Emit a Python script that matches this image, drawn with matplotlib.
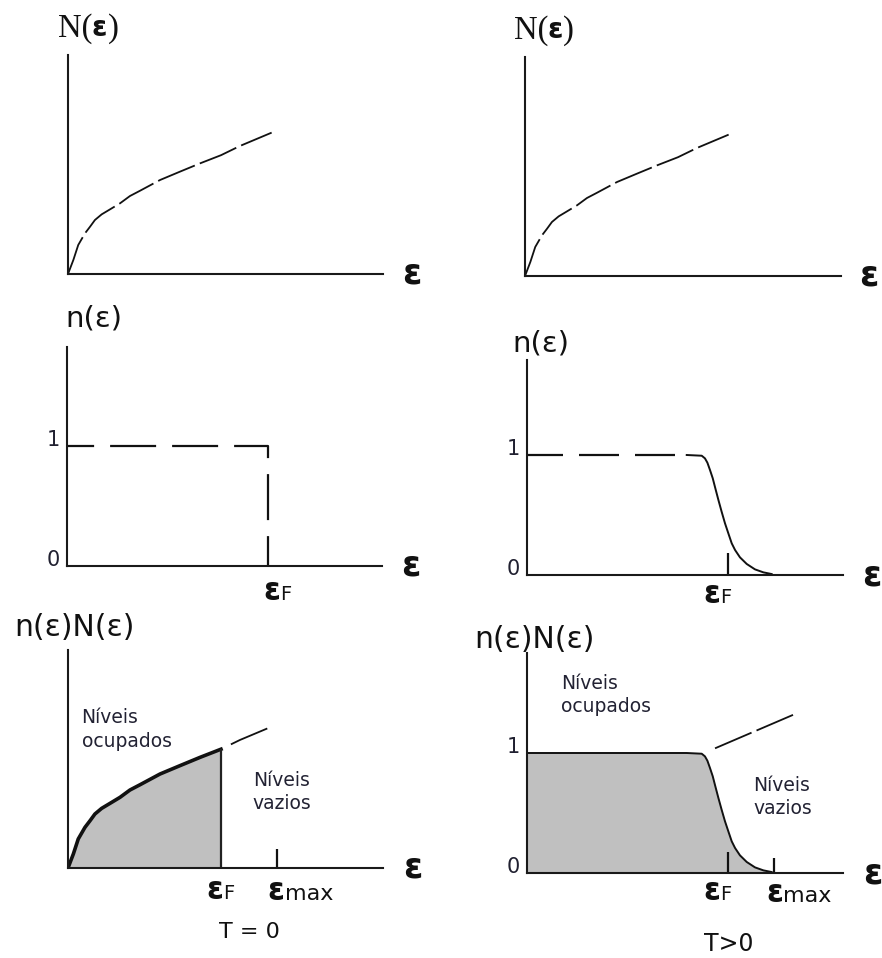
import numpy as np
import matplotlib
matplotlib.use("Agg")
import matplotlib.pyplot as plt

W, H = 882, 958          # figure size in pixels
PX, PY = 153.0, 120.0    # pixels per energy unit / per occupation unit

# density of states N(e) (energy in units of the T=0 Fermi level)
dos_e = [0, 0.035, 0.067, 0.111, 0.144, 0.176, 0.22, 0.275, 0.34, 0.405, 0.471,
         0.601, 0.732, 0.863, 1.0, 1.124, 1.331]
dos_v = [0, 0.117, 0.242, 0.339, 0.394, 0.45, 0.497, 0.539, 0.589, 0.65, 0.694,
         0.783, 0.853, 0.922, 0.99, 1.067, 1.178]

# Fermi level / cut-off energies used in each sketch
ef = 1.316
emax = 1.614
ef_t0 = 1.0
emax_t0 = 1.366

# occupation n(e) at T = 0 (step) and T > 0 (smeared edge)
step_e = [0, ef, ef]
step_v = [1, 1, 0]
fd_e = [1.044, 1.142, 1.163, 1.179, 1.196, 1.214, 1.231, 1.251, 1.272, 1.294,
        1.316, 1.338, 1.36, 1.392, 1.436, 1.49, 1.545, 1.599]
fd_v = [1.0, 0.994, 0.972, 0.936, 0.875, 0.806, 0.722, 0.625, 0.528, 0.431,
        0.347, 0.264, 0.208, 0.147, 0.092, 0.047, 0.022, 0.008]

# piece of N(e) drawn above the T > 0 product curve
tail_e = [1.229, 1.763]
tail_v = [1.039, 1.331]

GRAY = "#c0c0c0"
INK = "#111111"

fig = plt.figure(figsize=(W / 100, H / 100), dpi=100)


def make_ax(x0, ybase, w, h):
    ax = fig.add_axes([x0 / W, 1 - ybase / H, w / W, h / H])
    ax.set_xlim(0, w / PX)
    ax.set_ylim(0, h / PY)
    for s in ("top", "right"):
        ax.spines[s].set_visible(False)
    for s in ("left", "bottom"):
        ax.spines[s].set_linewidth(1.5)
        ax.spines[s].set_color("#1a1a1a")
    ax.set_xticks([])
    ax.set_yticks([])
    ax.patch.set_visible(False)
    return ax


def occ_ticks(ax):
    ax.set_yticks([0, 1], ["0", "1"], fontsize=15, color="#202030")
    ax.tick_params(axis="y", length=0, pad=5)
    plt.setp(ax.get_yticklabels(), va="baseline")


def chain(ax, x, y, pieces):
    # consecutive text pieces sharing one baseline
    s, kw = pieces[0]
    prev = ax.text(x, y, s, ha="left", va="baseline", clip_on=False, color=INK, **kw)
    for s, kw in pieces[1:]:
        prev = ax.annotate(s, xy=(1, y), xycoords=(prev, "data"), ha="left",
                           va="baseline", annotation_clip=False, color=INK, **kw)


def eps_axis(ax, x):
    ax.text(x, 0, "ε", fontsize=25, fontweight="bold", ha="center", va="center",
            clip_on=False, color=INK)


def dos_label(ax, x, y):
    chain(ax, x, y, [("N(", dict(fontsize=23.5, family="Liberation Serif")),
                     ("ε", dict(fontsize=20, fontweight="bold")),
                     (")", dict(fontsize=23.5, family="Liberation Serif"))])


def sub_label(ax, x, y, sub, size):
    chain(ax, x, y, [("ε", dict(fontsize=22, fontweight="bold")),
                     (sub, dict(fontsize=size))])


def levels_text(ax, x, y, s):
    ax.text(x, y, s, fontsize=13.5, ha="left", va="top", linespacing=1.3,
            color="#222233")


N_DASH = (0, (22, 3))

# --- top row: density of states ---
ax1 = make_ax(68, 274, 315, 219)
ax1.plot(dos_e, dos_v, color=INK, lw=1.3, ls=N_DASH)
dos_label(ax1, -0.068, 1.98)
eps_axis(ax1, 2.25)

ax2 = make_ax(525, 276, 316, 219)
ax2.plot(dos_e, dos_v, color=INK, lw=1.3, ls=N_DASH)
dos_label(ax2, -0.075, 1.98)
eps_axis(ax2, 2.245)

# --- middle row: occupation ---
ax3 = make_ax(67, 566, 315, 219)
ax3.plot(step_e, step_v, color=INK, lw=1.6, ls=(8.5, (20.7, 7.2)))
occ_ticks(ax3)
ax3.text(0.176, 2.06, "n(ε)", fontsize=21, ha="center", va="center", color=INK)
sub_label(ax3, 1.281, -0.286, "F", 14)
eps_axis(ax3, 2.248)

ax4 = make_ax(527, 575, 316, 215)
ax4.plot([0, fd_e[0]], [fd_v[0], fd_v[0]], color=INK, lw=1.6, ls=(1.8, (18, 7.2)))
ax4.plot(fd_e, fd_v, color=INK, lw=1.4)
ax4.vlines(ef, 0, 0.18, color=INK, lw=1.6)
occ_ticks(ax4)
ax4.text(0.092, 1.93, "n(ε)", fontsize=21, ha="center", va="center", color=INK)
sub_label(ax4, 1.15, -0.233, "F", 14)
eps_axis(ax4, 2.255)

# --- bottom row: occupied states n(e)N(e) ---
ax5 = make_ax(68, 868, 315, 218)
k = dos_e.index(ef_t0) + 1
ax5.fill_between(dos_e[:k], dos_v[:k], color=GRAY, lw=0)
ax5.plot(dos_e[:k], dos_v[:k], color=INK, lw=2.6)
ax5.plot(dos_e[k - 1:], dos_v[k - 1:], color=INK, lw=1.3, ls=(22, (22, 6.1)))
ax5.vlines(ef_t0, 0, dos_v[k - 1], color="#222222", lw=1.6)
ax5.vlines(emax_t0, 0, 0.158, color=INK, lw=1.6)
ax5.text(0.044, 2.0, "n(ε)N(ε)", fontsize=21.5, ha="center", va="center", color=INK)
levels_text(ax5, 0.089, 1.33, "Níveis\nocupados")
levels_text(ax5, 1.207, 0.81, "Níveis\nvazios")
sub_label(ax5, 0.904, -0.255, "F", 14)
sub_label(ax5, 1.306, -0.264, "max", 16)
ax5.text(1.187, -0.53, "T = 0", fontsize=16, ha="center", va="center",
         clip_on=False, color=INK)
eps_axis(ax5, 2.256)

ax6 = make_ax(527, 873, 316, 220)
prod_e = [0] + fd_e
prod_v = [fd_v[0]] + fd_v
ax6.fill_between(prod_e, prod_v, color=GRAY, lw=0)
ax6.plot(prod_e, prod_v, color=INK, lw=1.4)
ax6.plot(tail_e, tail_v, color=INK, lw=1.3, ls=N_DASH)
ax6.vlines(ef, 0, 0.175, color=INK, lw=1.6)
ax6.vlines(emax, 0, 0.125, color=INK, lw=1.6)
occ_ticks(ax6)
ax6.text(0.049, 1.95, "n(ε)N(ε)", fontsize=21.5, ha="center", va="center", color=INK)
levels_text(ax6, 0.222, 1.66, "Níveis\nocupados")
levels_text(ax6, 1.477, 0.81, "Níveis\nvazios")
sub_label(ax6, 1.15, -0.228, "F", 14)
sub_label(ax6, 1.562, -0.245, "max", 16)
ax6.text(1.32, -0.59, "T>0", fontsize=17, ha="center", va="center",
         clip_on=False, color=INK)
eps_axis(ax6, 2.258)

fig.savefig("out.png", dpi=100, facecolor="white")
